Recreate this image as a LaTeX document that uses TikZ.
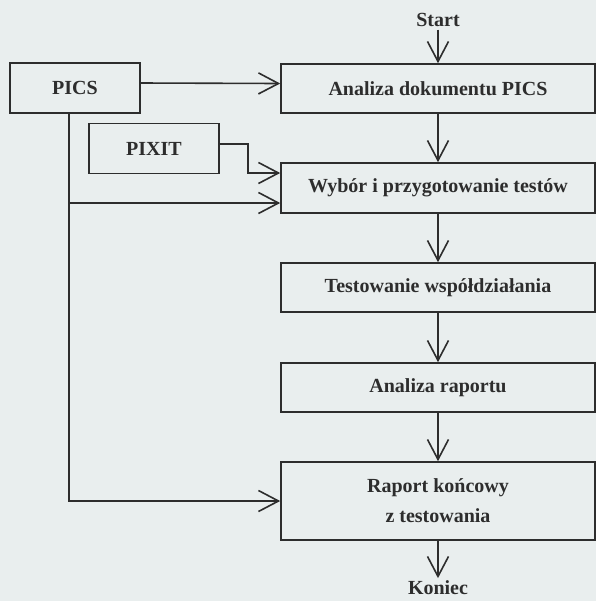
\documentclass[tikz,border=0pt]{standalone}
\usepackage{fontspec}
\setmainfont{Liberation Serif}
\usetikzlibrary{arrows.meta}
\definecolor{paper}{RGB}{233,238,238}
\definecolor{ink}{RGB}{45,45,45}

\begin{document}
\begin{tikzpicture}
[x=0.5pt,y=-0.5pt,font=\bfseries,line width=0.8pt]
\tikzset{box/.style={draw=ink,rectangle,text=ink,inner sep=0pt}}
\tikzset{wide/.style={box,minimum width=157pt,minimum height=24.5pt}}
\tikzset{small/.style={box,minimum width=65pt,minimum height=25pt}}
\tikzset{lbl/.style={text=ink,inner sep=1pt}}
\tikzset{arr/.style={draw=ink,-{Straight Barb[length=10pt,width=10.5pt]}}}
\fill [paper] (0,0) rectangle (596,601);
\useasboundingbox (0,0) rectangle (596,601);
\node [lbl] (start) at (438,20) {Start};
\node [small] (pics) at (75,88) {PICS};
\node [small] (pixit) at (154,148.5) {PIXIT};
\node [wide] (ana) at (438,88.5) {Analiza dokumentu PICS};
\node [wide,minimum height=25pt] (wyb) at (438,188) {Wybór i przygotowanie testów};
\node [wide] (test) at (438,287.5) {Testowanie współdziałania};
\node [wide] (rap) at (438,387.5) {Analiza raportu};
\node [wide,minimum height=39pt,align=center] (konc) at (438,501) {Raport końcowy\\[3pt] z testowania};
\node [lbl] (kon) at (438,588) {Koniec};

\foreach \from/\to in {start/ana,ana/wyb,wyb/test,test/rap,rap/konc,konc/kon}
	\draw [arr] (\from) -- (\to);

\draw [arr] ([yshift=2.5pt]pics.east) -- ([yshift=2.5pt]ana.west);
\draw [arr] ([yshift=2.25pt]pixit.east) -| (248,173) -- ([yshift=7.5pt]wyb.west);
\draw [arr] ([xshift=-3pt]pics.south) |- ([yshift=-7.5pt]wyb.west);
\draw [arr] ([xshift=-3pt]pics.south) |- (konc.west);

\end{tikzpicture}
\end{document}
